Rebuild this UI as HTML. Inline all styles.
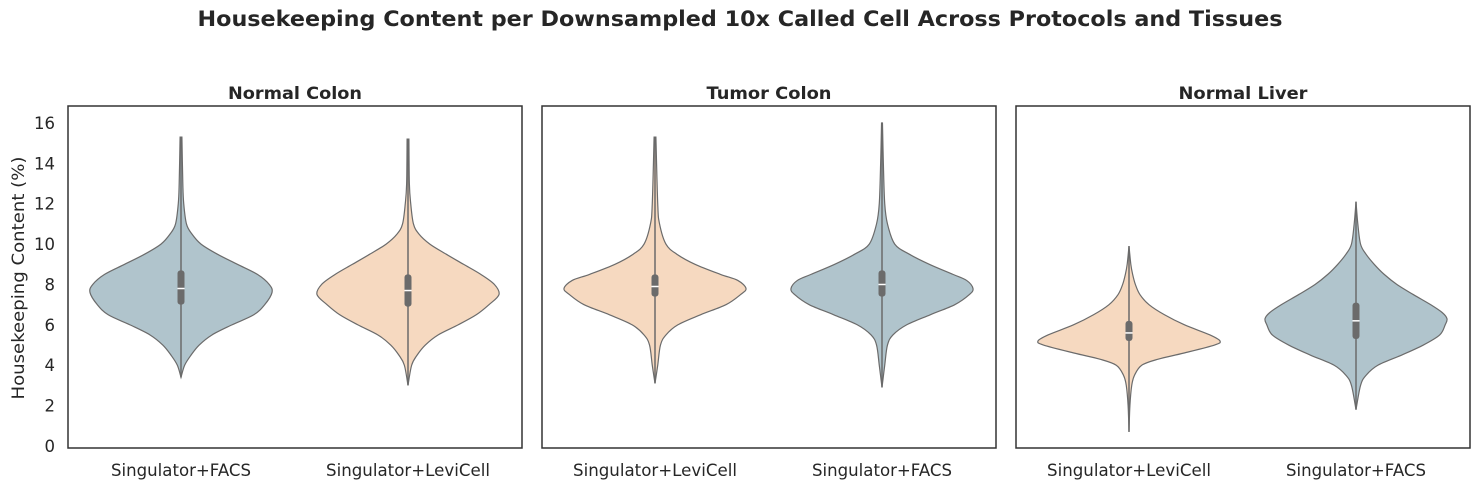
<!DOCTYPE html>
<html><head><meta charset="utf-8"><style>
body{margin:0;background:#fff;}
svg{display:block;font-family:"DejaVu Sans","Liberation Sans",sans-serif;}
</style></head><body>
<svg id="chart" width="1480" height="490" viewBox="0 0 1480 490">
<text x="740" y="26" text-anchor="middle" font-size="21" font-weight="bold" fill="#262626" textLength="1085" lengthAdjust="spacingAndGlyphs">Housekeeping Content per Downsampled 10x Called Cell Across Protocols and Tissues</text>
<text transform="translate(24,278) rotate(-90)" text-anchor="middle" font-size="17" fill="#262626" textLength="243" lengthAdjust="spacingAndGlyphs">Housekeeping Content (%)</text>
<g id="panels"></g>
</svg>
<script>
const panelTitles = ["Normal Colon","Tumor Colon","Normal Liver"];
const categories = [["Singulator+FACS","Singulator+LeviCell"],["Singulator+LeviCell","Singulator+FACS"],["Singulator+LeviCell","Singulator+FACS"]];
const yTicks = [0,2,4,6,8,10,12,14,16];
// density profiles: [value, relative half-width]
const densities = [
 [
  [[3.4,0],[4,0.04],[4.5,0.11],[5,0.2],[5.5,0.34],[6,0.56],[6.5,0.8],[7,0.92],[7.6,1],[8,0.97],[8.5,0.84],[9,0.62],[9.5,0.4],[10,0.22],[10.5,0.12],[11,0.06],[12,0.03],[13,0.02],[15.3,0.01]],
  [[3.0,0],[4,0.04],[4.5,0.1],[5,0.19],[5.5,0.33],[6,0.55],[6.5,0.75],[7,0.89],[7.5,1],[8,0.95],[8.5,0.8],[9,0.61],[9.5,0.42],[10,0.24],[10.5,0.12],[11,0.06],[12,0.03],[13,0.015],[15.2,0.01]]
 ],
 [
  [[3.1,0],[4,0.03],[5,0.06],[5.5,0.12],[6,0.25],[6.5,0.5],[7,0.78],[7.5,0.94],[7.8,1],[8.2,0.91],[8.5,0.72],[9,0.44],[9.5,0.24],[10,0.12],[11,0.05],[12,0.03],[15.3,0.01]],
  [[2.9,0],[4,0.03],[5,0.06],[5.5,0.12],[6,0.27],[6.5,0.53],[7,0.8],[7.5,0.96],[7.8,1],[8.2,0.93],[8.5,0.78],[9,0.52],[9.5,0.3],[10,0.14],[11,0.06],[12,0.03],[14,0.015],[16,0.005]]
 ],
 [
  [[0.7,0],[2,0.01],[3,0.03],[3.5,0.06],[4,0.14],[4.3,0.32],[4.6,0.6],[5,0.94],[5.2,1],[5.5,0.89],[6,0.61],[6.5,0.39],[7,0.22],[7.5,0.12],[8,0.07],[8.5,0.04],[9,0.02],[9.9,0]],
  [[1.8,0],[3,0.05],[3.5,0.11],[4,0.24],[4.5,0.5],[5,0.74],[5.5,0.92],[6,0.98],[6.3,1],[6.6,0.95],[7,0.82],[7.5,0.63],[8,0.45],[8.5,0.31],[9,0.2],[9.5,0.11],[10,0.05],[11,0.02],[12.1,0]]
 ]
];
// box stats: [whiskerLow, q1, median, q3, whiskerHigh]
const boxes = [
 [[4.5,7.0,7.8,8.7,10.9],[4.4,6.9,7.7,8.5,11.0]],
 [[5.6,7.4,7.9,8.5,10.2],[5.6,7.4,8.0,8.7,10.5]],
 [[3.7,5.2,5.6,6.2,7.6],[2.9,5.3,6.2,7.1,9.7]]
];
const colorMap = {"Singulator+FACS":"#b0c4cc","Singulator+LeviCell":"#f6d9c0"};

const NS="http://www.w3.org/2000/svg";
const g=document.getElementById('panels');
const panelX=[68,542,1016], pw=454, panelTop=106, panelBot=448, maxHW=91;
const yScale=v=>446-v*20.19;
function mk(t,a,p){const e=document.createElementNS(NS,t);for(const k in a)e.setAttribute(k,a[k]);(p||g).appendChild(e);return e;}
function smooth(pts){let d="M"+pts[0][0]+","+pts[0][1];for(let i=0;i<pts.length-1;i++){const p0=pts[i-1]||pts[i],p1=pts[i],p2=pts[i+1],p3=pts[i+2]||p2;const c1=[p1[0]+(p2[0]-p0[0])/6,p1[1]+(p2[1]-p0[1])/6],c2=[p2[0]-(p3[0]-p1[0])/6,p2[1]-(p3[1]-p1[1])/6];d+=`C${c1[0]},${c1[1]} ${c2[0]},${c2[1]} ${p2[0]},${p2[1]}`;}return d;}
const titleLen={"Normal Colon":134,"Tumor Colon":125,"Normal Liver":129};
const labLen={"Singulator+FACS":140,"Singulator+LeviCell":164};
panelTitles.forEach((title,pi)=>{
 const x0=panelX[pi];
 const t=mk('text',{x:x0+pw/2,y:99,'text-anchor':'middle','font-size':17,'font-weight':'bold',fill:'#262626',textLength:titleLen[title],lengthAdjust:'spacingAndGlyphs'});t.textContent=title;
 
 
 categories[pi].forEach((cat,ci)=>{
  const cx=x0+113+ci*227;
  const dens=densities[pi][ci];
  const right=dens.map(d=>[cx+d[1]*maxHW,yScale(d[0])]);
  const left=dens.slice().reverse().map(d=>[cx-d[1]*maxHW,yScale(d[0])]);
  const path=mk('path',{d:smooth(right)+" L"+smooth(left).slice(1)+"Z",fill:colorMap[cat],stroke:'#6b6b6b','stroke-width':1.2});
  
  
  const b=boxes[pi][ci];
  const w=mk('line',{x1:cx,x2:cx,y1:yScale(dens[0][0]),y2:yScale(dens[dens.length-1][0]),stroke:'#6b6b6b','stroke-width':1.5});
  
  
  const r=mk('rect',{x:cx-3.5,y:yScale(b[3]),width:7,height:yScale(b[1])-yScale(b[3]),rx:3,fill:'#6b6b6b'});
  
  
  const m=mk('line',{x1:cx-3.5,x2:cx+3.5,y1:yScale(b[2]),y2:yScale(b[2]),stroke:'#fff','stroke-width':1.5});
  
  
  const lab=mk('text',{x:cx,y:476,'text-anchor':'middle','font-size':16.5,fill:'#262626',textLength:labLen[cat],lengthAdjust:'spacingAndGlyphs'});lab.textContent=cat;
  
  
 });
 const fr=mk('rect',{x:x0,y:panelTop,width:pw,height:panelBot-panelTop,fill:'none',stroke:'#333','stroke-width':1.5});
 
 
});
yTicks.forEach(v=>{
 const t=mk('text',{x:55,y:yScale(v)+6,'text-anchor':'end','font-size':16.5,fill:'#262626'});t.textContent=v;
 
 
});
</script>
</body></html>
